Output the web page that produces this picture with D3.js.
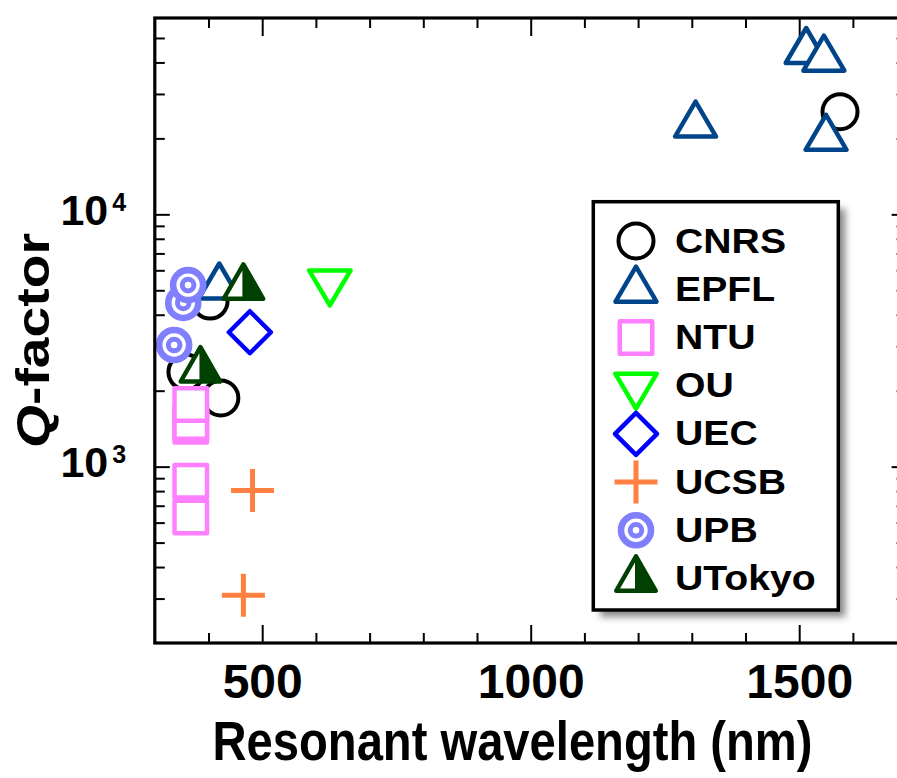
<!DOCTYPE html>
<html>
<head>
<meta charset="utf-8">
<script src="https://cdn.jsdelivr.net/npm/d3@7"></script>
<style>
  html, body { margin: 0; padding: 0; background: #fff; }
  svg { display: block; font-family: "Liberation Sans", Arial, Helvetica, sans-serif; font-weight: bold; }
</style>
</head>
<body>
<svg id="chart" width="897" height="778"></svg>
<script>
// Research groups, in legend order
const groups = ["CNRS", "EPFL", "NTU", "OU", "UEC", "UCSB", "UPB", "UTokyo"];

// Measured cavities per group: [resonant wavelength (nm), Q-factor]
const cnrsPoints   = [[1576, 25500], [403, 4530], [358, 2370], [423, 1870]];
const epflPoints   = [[1307, 22800], [1513, 44600], [1546, 41600], [1550, 20200], [420, 5200]];
const ntuPoints    = [[367, 632], [367, 876], [367, 1445], [367, 1496], [367, 1764]];
const ouPoints     = [[626, 5370]];
const uecPoints    = [[477, 3410]];
const ucsbPoints   = [[482, 804], [465, 309]];
const upbPoints    = [[353, 4455], [362, 5242], [336, 3034]];
const utokyoPoints = [[465, 5170], [385, 2430]];

const groupPoints = [cnrsPoints, epflPoints, ntuPoints, ouPoints, uecPoints, ucsbPoints, upbPoints, utokyoPoints];
const groupColors = ["#000000", "#00458a", "#ff80ff", "#00ff00", "#0000ff", "#ff8040", "#8080ff", "#004000"];
const groupMarkers = ["circle", "triangleUp", "square", "triangleDown", "diamond", "plus", "bullseye", "halfTriangle"];

// Axis ticks
const xMajorTicks = [500, 1000, 1500];
const xMinorTicks = [400, 600, 700, 800, 900, 1100, 1200, 1300, 1400, 1600];
const yMajorTicks = [1000, 10000];
const yMinorTicks = [300, 400, 500, 600, 700, 800, 900, 2000, 3000, 4000, 5000, 6000, 7000, 8000, 9000, 20000, 30000, 40000, 50000];
const yTickExponents = ["3", "4"];

const svg = d3.select("#chart");

const plotLeft = 154.8, plotRight = 906.6, plotTop = 18, plotBottom = 643;
const x = d3.scaleLinear().domain([300, 1700]).range([plotLeft, plotRight]);
const y = d3.scaleLog().domain([200, 60000]).range([plotBottom, plotTop]);

// ---- tick marks on all four sides ----
function tickAxis(axisFn, values, size, transform) {
  const g = svg.append("g").attr("transform", transform)
    .call(axisFn.tickValues(values).tickSizeInner(-size).tickSizeOuter(0).tickFormat(""));
  g.select(".domain").remove();
  g.selectAll(".tick line").attr("stroke", "#000").attr("stroke-width", 2);
  return g;
}
tickAxis(d3.axisBottom(x), xMajorTicks, 18, `translate(0,${plotBottom})`);
tickAxis(d3.axisBottom(x), xMinorTicks, 10, `translate(0,${plotBottom})`);
tickAxis(d3.axisTop(x), xMajorTicks, 18, `translate(0,${plotTop})`);
tickAxis(d3.axisTop(x), xMinorTicks, 10, `translate(0,${plotTop})`);
tickAxis(d3.axisLeft(y), yMajorTicks, 15, `translate(${plotLeft},0)`);
tickAxis(d3.axisLeft(y), yMinorTicks, 10, `translate(${plotLeft},0)`);
tickAxis(d3.axisRight(y), yMajorTicks, 15, `translate(${plotRight},0)`);
tickAxis(d3.axisRight(y), yMinorTicks, 10, `translate(${plotRight},0)`);

// x tick labels
const xLab = svg.append("g").attr("transform", `translate(0,${plotBottom})`)
  .call(d3.axisBottom(x).tickValues(xMajorTicks).tickSize(0).tickPadding(21).tickFormat(d3.format("d")));
xLab.select(".domain").remove();
xLab.selectAll("text").attr("font-size", 48).attr("font-weight", "bold")
  .attr("font-family", "'Liberation Sans', Arial, sans-serif").attr("fill", "#000");

// y tick labels as powers of ten
const yLab = svg.append("g").attr("transform", `translate(${plotLeft},0)`)
  .call(d3.axisLeft(y).tickValues(yMajorTicks).tickSize(0).tickFormat(""));
yLab.select(".domain").remove();
yLab.selectAll(".tick").each(function(d, i) {
  const t = d3.select(this);
  t.append("text").attr("x", -46.5).attr("y", 10).attr("text-anchor", "end")
    .attr("font-size", 43).attr("fill", "#000").text("10");
  t.append("text").attr("x", -42.5).attr("y", -4).attr("text-anchor", "start")
    .attr("font-size", 25).attr("fill", "#000").text(yTickExponents[i]);
});

// ---- marker shapes ----
const SW = 4.5;
function drawMarker(g, type, color) {
  const common = s => s.attr("fill", "#fff").attr("stroke", color).attr("stroke-width", SW)
    .attr("stroke-linejoin", "round");
  if (type === "circle") {
    g.append("circle").attr("r", 17.5).call(common).attr("stroke-width", 4);
  } else if (type === "triangleUp") {
    g.append("path").attr("d", "M0,-22.5L20.5,12.5L-20.5,12.5Z").call(common);
  } else if (type === "triangleDown") {
    g.append("path").attr("d", "M-20.75,-12L20.75,-12L0,23Z").call(common);
  } else if (type === "square") {
    g.append("rect").attr("x", -16.25).attr("y", -16.25).attr("width", 32.5).attr("height", 32.5).call(common);
  } else if (type === "diamond") {
    g.append("path").attr("d", "M0,-21L21,0L0,21L-21,0Z").call(common);
  } else if (type === "plus") {
    g.append("path").attr("d", "M-21.5,0H21.5M0,-21.5V21.5")
      .attr("fill", "none").attr("stroke", color).attr("stroke-width", 5);
  } else if (type === "bullseye") {
    g.append("circle").attr("r", 15).attr("fill", "#fff").attr("stroke", color).attr("stroke-width", 6.6);
    g.append("circle").attr("r", 5.8).attr("fill", "#fff").attr("stroke", color).attr("stroke-width", 5);
  } else if (type === "halfTriangle") {
    g.append("path").attr("d", "M0,-22.25L19.75,12.25L-19.75,12.25Z")
      .attr("fill", color).attr("stroke", color).attr("stroke-width", SW).attr("stroke-linejoin", "round");
    g.append("path").attr("d", "M-1,-16L-15.9,10L-1,10Z").attr("fill", "#fff");
  }
}

// ---- data points ----
const plot = svg.append("g");
groups.forEach((name, gi) => {
  plot.append("g").selectAll("g")
    .data(groupPoints[gi])
    .join("g")
    .attr("transform", d => `translate(${x(d[0])},${y(d[1])})`)
    .each(function() { drawMarker(d3.select(this), groupMarkers[gi], groupColors[gi]); });
});

// ---- frame ----
svg.append("rect").attr("x", plotLeft).attr("y", plotTop)
  .attr("width", plotRight - plotLeft).attr("height", plotBottom - plotTop)
  .attr("fill", "none").attr("stroke", "#000").attr("stroke-width", 3.2);

// ---- legend ----
const defs = svg.append("defs");
defs.append("filter").attr("id", "legendShadow").attr("x", "-20%").attr("y", "-20%").attr("width", "140%").attr("height", "140%")
  .append("feGaussianBlur").attr("stdDeviation", 3.5);

const lx = 593.3, ly = 201.7, lw = 245, lh = 408.3;
const legend = svg.append("g");
legend.append("rect").attr("x", lx + 7).attr("y", ly + 7).attr("width", lw).attr("height", lh)
  .attr("fill", "#8a8a8a").attr("filter", "url(#legendShadow)");
legend.append("rect").attr("x", lx).attr("y", ly).attr("width", lw).attr("height", lh)
  .attr("fill", "#fff").attr("stroke", "#000").attr("stroke-width", 3.5);

const rowY = d3.scaleLinear().domain([0, groups.length - 1]).range([240, 577.5]);
const entries = legend.selectAll("g.entry").data(groups).join("g").attr("class", "entry")
  .attr("transform", (d, i) => `translate(0,${rowY(i)})`);
entries.append("g").attr("transform", "translate(636,1)")
  .each(function(d, i) { drawMarker(d3.select(this), groupMarkers[i], groupColors[i]); });
entries.append("text").attr("transform", "translate(675,12.5) scale(1.12,1)")
  .attr("font-size", 35).attr("fill", "#000").text(d => d);

// ---- axis titles ----
const xTitle = svg.append("text").attr("text-anchor", "middle").attr("font-size", 55).attr("fill", "#000")
  .text("Resonant wavelength (nm)");
const xLen = xTitle.node().getComputedTextLength();
xTitle.attr("transform", `translate(512.5,760) scale(${600 / xLen},1)`);

const yTitle = svg.append("text").attr("text-anchor", "middle").attr("font-size", 46).attr("fill", "#000");
yTitle.append("tspan").attr("font-style", "italic").text("Q");
yTitle.append("tspan").text("-factor");
const yLen = yTitle.node().getComputedTextLength();
yTitle.attr("transform", `translate(48.5,340.5) rotate(-90) scale(${215 / yLen},1)`);
</script>
</body>
</html>
